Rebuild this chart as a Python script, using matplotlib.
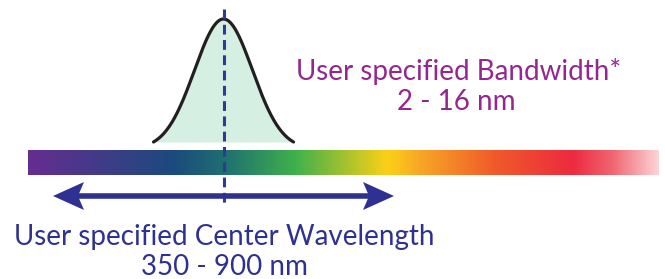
import matplotlib.pyplot as plt
import numpy as np
from matplotlib.colors import LinearSegmentedColormap
from matplotlib.patches import Polygon

# spectrum bar (pixel coords of the 665x279 picture)
bar_x = [28, 659]
bar_y = [150, 175]
stop_pos = [0.0, 0.23, 0.31, 0.425, 0.57, 0.62, 0.74, 0.865, 0.93, 1.0]
stop_colors = ['#662d91', '#1b4a7d', '#1f6f72', '#3fb14b', '#fcd116',
               '#f8a826', '#f05a2a', '#ed2a3f', '#f06874', '#fbd3d6']

# gaussian passband
center = 223.5
peak_y = 19
base_y = 142
half_span = 70
sigma = 29

# arrow range
arrow_x = [53, 394]
arrow_y = 196
head_len = 31
head_half = 14
head_notch = 6

bw_lines = ['User specified Bandwidth*', '2 - 16 nm']
cw_lines = ['User specified Center Wavelength', '350 - 900 nm']

plt.rcParams['font.family'] = ['Lato', 'DejaVu Sans']
fig = plt.figure(figsize=(6.65, 2.79), dpi=100)
ax = fig.add_axes([0, 0, 1, 1])

# spectrum
cmap = LinearSegmentedColormap.from_list('spec', list(zip(stop_pos, stop_colors)))
grad = np.linspace(0, 1, 512).reshape(1, -1)
ax.imshow(grad, cmap=cmap, aspect='auto',
          extent=[bar_x[0], bar_x[1], bar_y[1], bar_y[0]], interpolation='bilinear')

# gaussian curve, rescaled so the tails meet the base line
x = np.linspace(center - half_span, center + half_span, 300)
g = np.exp(-(x - center) ** 2 / (2 * sigma ** 2))
g_end = np.exp(-half_span ** 2 / (2 * sigma ** 2))
y = base_y - (base_y - peak_y) * (g - g_end) / (1 - g_end)
ax.fill_between(x, y, base_y, color='#d5efe2', lw=0)
ax.plot(x, y, color='#231f20', lw=2.3, solid_capstyle='round')

# center line
ax.plot([center, center], [9, 206], color='#2e3a94', lw=2.2, dashes=(3.2, 1.8))

# double arrow: shaft plus two barbed heads
arrow_col = '#2e3192'
ax.plot([arrow_x[0] + head_len - head_notch, arrow_x[1] - head_len + head_notch],
        [arrow_y, arrow_y], color=arrow_col, lw=4, solid_capstyle='butt')
for tip, d in [(arrow_x[0], 1), (arrow_x[1], -1)]:
    ax.add_patch(Polygon([(tip, arrow_y),
                          (tip + d * head_len, arrow_y - head_half),
                          (tip + d * (head_len - head_notch), arrow_y),
                          (tip + d * head_len, arrow_y + head_half)],
                         closed=True, color=arrow_col, lw=0))

ax.text(459, 80, bw_lines[0], color='#93278f', fontsize=20, ha='center', va='baseline')
ax.text(456, 110, bw_lines[1], color='#93278f', fontsize=20, ha='center', va='baseline')
ax.text(224, 245, cw_lines[0], color='#2e3192', fontsize=20, ha='center', va='baseline')
ax.text(224, 275, cw_lines[1], color='#2e3192', fontsize=20, ha='center', va='baseline')

ax.set_xlim(0, 665)
ax.set_ylim(279, 0)
ax.axis('off')

fig.savefig('out.png', dpi=100)
